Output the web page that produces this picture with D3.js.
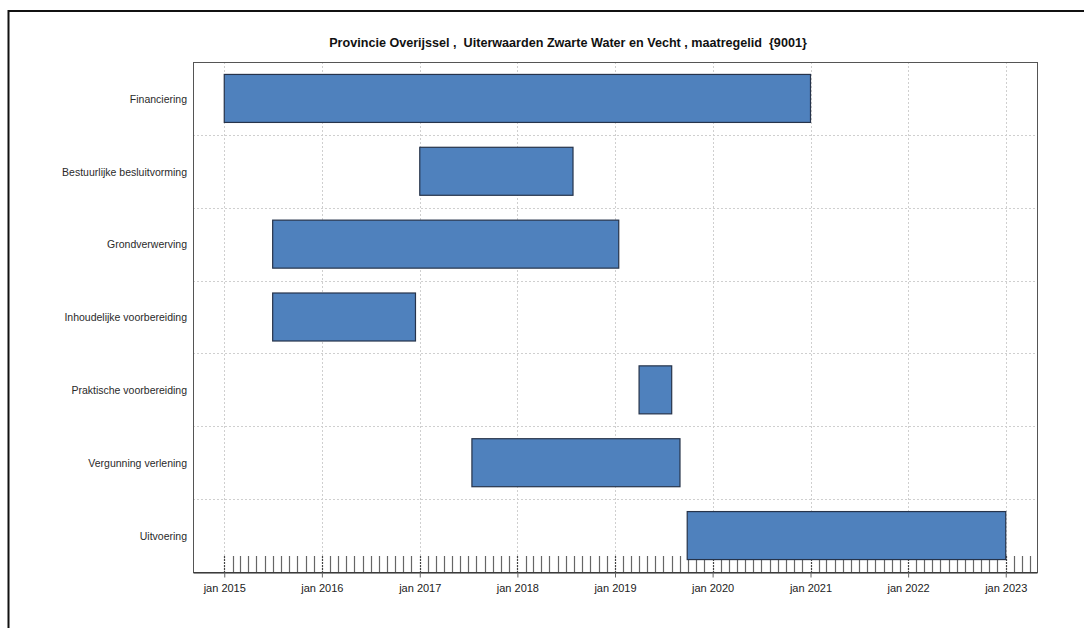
<!DOCTYPE html>
<html>
<head>
<meta charset="utf-8">
<script src="https://cdn.jsdelivr.net/npm/d3@7"></script>
<style>
  html, body { margin: 0; padding: 0; background: #fff; }
  svg { display: block; font-family: "Liberation Sans", Arial, sans-serif; }
</style>
</head>
<body>
<svg id="chart" width="1084" height="628"></svg>
<script>
const title = "Provincie Overijssel ,  Uiterwaarden Zwarte Water en Vecht , maatregelid  {9001}";
const categories = [
  "Financiering",
  "Bestuurlijke besluitvorming",
  "Grondverwerving",
  "Inhoudelijke voorbereiding",
  "Praktische voorbereiding",
  "Vergunning verlening",
  "Uitvoering"
];
const startDates = ["2015-01-01", "2017-01-01", "2015-07-01", "2015-07-01", "2019-04-01", "2017-07-15", "2019-09-28"];
const endDates   = ["2021-01-01", "2018-07-28", "2019-01-15", "2016-12-16", "2019-08-01", "2019-09-01", "2023-01-01"];
const tickDates  = ["2015-01-01", "2016-01-01", "2017-01-01", "2018-01-01", "2019-01-01", "2020-01-01", "2021-01-01", "2022-01-01", "2023-01-01"];
const tickLabels = ["jan 2015", "jan 2016", "jan 2017", "jan 2018", "jan 2019", "jan 2020", "jan 2021", "jan 2022", "jan 2023"];

const parse = d3.utcParse("%Y-%m-%d");
const tasks = categories.map((c, i) => ({ name: c, start: parse(startDates[i]), end: parse(endDates[i]) }));
const ticks = tickDates.map(parse);

const svg = d3.select("#chart");
const L = 193, R = 1037, T = 62, B = 572;

// 4% padding on each side of the data range (like R)
const tMin = d3.min(tasks, d => d.start), tMax = d3.max(tasks, d => d.end);
const pad = (tMax - tMin) * 0.04;
const x = d3.scaleUtc().domain([new Date(+tMin - pad), new Date(+tMax + pad)]).range([L, R]);
const y = d3.scaleBand().domain(categories).range([T, B]).padding(0);
const barH = 48;

// outer frame
svg.append("path").attr("d", `M8.5,628 V11 H1084`).attr("fill", "none").attr("stroke", "#111").attr("stroke-width", 2);

// title
svg.append("text").attr("x", 568).attr("y", 47).attr("text-anchor", "middle")
  .style("white-space", "pre").attr("xml:space", "preserve")
  .attr("font-weight", "bold").attr("font-size", 12.6).attr("fill", "#111").text(title);

// horizontal grid lines between rows
svg.append("g").selectAll("line").data(categories.slice(1)).join("line")
  .attr("x1", L).attr("x2", R)
  .attr("y1", d => Math.round(y(d)) + 0.5).attr("y2", d => Math.round(y(d)) + 0.5)
  .attr("stroke", "#cfcfcf").attr("stroke-dasharray", "2,2");

// vertical grid lines at years
svg.append("g").selectAll("line").data(ticks).join("line")
  .attr("x1", d => Math.round(x(d)) + 0.5).attr("x2", d => Math.round(x(d)) + 0.5)
  .attr("y1", T).attr("y2", B)
  .attr("stroke", "#cfcfcf").attr("stroke-dasharray", "2,2");

// monthly ticks inside plot
const months = d3.utcMonth.range(ticks[0], x.domain()[1]);
svg.append("g").selectAll("line").data(months).join("line")
  .attr("x1", d => Math.round(x(d)) + 0.5).attr("x2", d => Math.round(x(d)) + 0.5)
  .attr("y1", B - 16).attr("y2", B)
  .attr("stroke", d => d.getUTCMonth() === 0 ? "#444" : "#666")
  .attr("stroke-dasharray", d => d.getUTCMonth() === 0 ? "2,1" : null)
  .attr("stroke-width", 1.2);

// bars
svg.append("g").selectAll("rect").data(tasks).join("rect")
  .attr("x", d => x(d.start)).attr("width", d => x(d.end) - x(d.start))
  .attr("y", d => y(d.name) + (y.bandwidth() - barH) / 2).attr("height", barH)
  .attr("fill", "#4f81bd").attr("stroke", "#26334a").attr("stroke-width", 1.2);

// plot border
svg.append("rect").attr("x", L + 0.5).attr("y", T + 0.5).attr("width", R - L).attr("height", B - T)
  .attr("fill", "none").attr("stroke", "#555");

// bottom axis
const xAxis = d3.axisBottom(x).tickValues(ticks).tickFormat((d, i) => tickLabels[i]).tickSize(5).tickSizeOuter(0);
const ax = svg.append("g").attr("transform", `translate(0,${B + 0.5})`).call(xAxis);
ax.select(".domain").attr("stroke", "#222");
ax.selectAll(".tick line").attr("stroke", "#666");
ax.selectAll(".tick text").attr("font-family", "Liberation Sans, Arial, sans-serif").attr("font-size", 11).attr("fill", "#222").attr("dy", "1.05em");

// category labels
svg.append("g").selectAll("text").data(categories).join("text")
  .attr("x", 187).attr("y", d => y(d) + y.bandwidth() / 2 + 1.5)
  .attr("text-anchor", "end").attr("dominant-baseline", "middle")
  .attr("font-size", 10.5).attr("fill", "#2a2a2a").text(d => d);
</script>
</body>
</html>
